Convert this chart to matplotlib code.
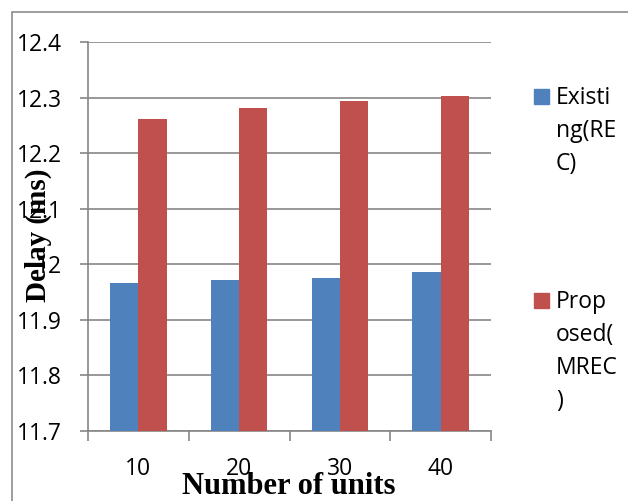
import matplotlib
matplotlib.use("Agg")
import matplotlib.pyplot as plt
from matplotlib.patches import Rectangle
import numpy as np

# Data
categories = ["10", "20", "30", "40"]
existing = [11.966, 11.972, 11.976, 11.986]
proposed = [12.261, 12.281, 12.294, 12.302]
series_names = ["Existing(REC)", "Proposed(MREC)"]
legend_wrapped = [["Existi", "ng(RE", "C)"], ["Prop", "osed(", "MREC", ")"]]
yticks = [11.7, 11.8, 11.9, 12.0, 12.1, 12.2, 12.3, 12.4]
ytick_labels = ["11.7", "11.8", "11.9", "12", "12.1", "12.2", "12.3", "12.4"]

BLUE = "#4F81BD"
RED = "#C0504D"
GRID = "#868686"
SANS = "Open Sans"
SERIF = "Liberation Serif"

W, H, DPI = 628, 501, 100
fig = plt.figure(figsize=(W / DPI, H / DPI), dpi=DPI)

def fx(px):
    return px / W

def fy(py):
    return 1 - py / H

# outer chart frame
fig.patches.append(Rectangle((fx(11.5), fy(700)), fx(700), fy(11.5) - fy(700),
                             transform=fig.transFigure, fill=False,
                             edgecolor="#8c8c8c", linewidth=1.2))

ax = fig.add_axes([fx(88), fy(431), fx(491) - fx(88), fy(42) - fy(431)])

x = np.arange(len(categories))
bw = 0.28
ax.bar(x - bw / 2, existing, bw, color=BLUE, zorder=3)
ax.bar(x + bw / 2, proposed, bw, color=RED, zorder=3)

ax.set_xlim(-0.5, len(categories) - 0.5)
ax.set_ylim(yticks[0], yticks[-1])
ax.set_yticks(yticks)
ax.set_yticklabels(ytick_labels, fontfamily=SANS, fontsize=16.5)
ax.yaxis.grid(True, color=GRID, linewidth=1.2, zorder=0)

ax.set_xticks(x)
ax.set_xticklabels(categories, fontfamily=SANS, fontsize=16.5)
ax.set_xticks(np.arange(-0.5, len(categories)), minor=True)
ax.tick_params(axis="x", which="major", length=0, pad=19)
ax.tick_params(axis="x", which="minor", length=7, width=1.2, color=GRID, direction="out")
ax.tick_params(axis="y", length=6, width=1.2, color=GRID, direction="out", pad=13)

for s in ["top", "right"]:
    ax.spines[s].set_visible(False)
for s in ["left", "bottom"]:
    ax.spines[s].set_color(GRID)
    ax.spines[s].set_linewidth(1.2)

# axis titles
fig.text(fx(38), fy(235), "Delay (ms)", rotation=90, ha="center", va="center",
         fontfamily=SERIF, fontweight="bold", fontsize=21)
fig.text(fx(289), fy(494), "Number of units", ha="center", va="baseline",
         fontfamily=SERIF, fontweight="bold", fontsize=22)

# legend
legend_tops = [89, 293]
for color, lines, top in zip([BLUE, RED], legend_wrapped, legend_tops):
    fig.patches.append(Rectangle((fx(534), fy(top + 15)), fx(15), fy(top) - fy(top + 15),
                                 transform=fig.transFigure, color=color))
    for i, line in enumerate(lines):
        fig.text(fx(556), fy(top + 15 + i * 33), line, ha="left", va="baseline",
                 fontfamily=SANS, fontsize=16.5)

fig.savefig("out.png", dpi=DPI)
